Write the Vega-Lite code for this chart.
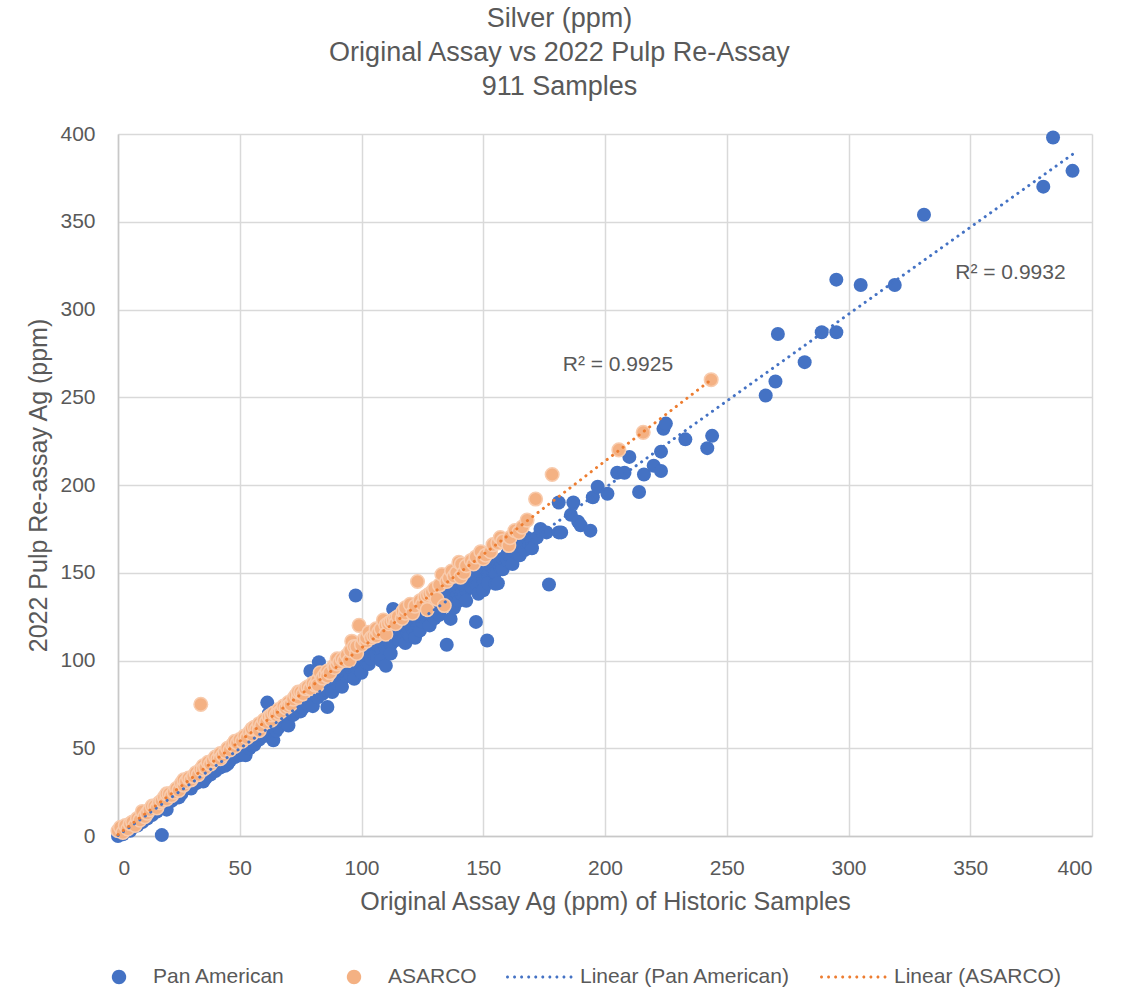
{
  "$schema": "https://vega.github.io/schema/vega-lite/v6.json",
  "width": 974,
  "height": 702,
  "padding": {"left": 26, "top": 5, "right": 10, "bottom": 5},
  "background": "white",
  "title": {
    "text": ["Silver (ppm)", "Original Assay vs 2022 Pulp Re-Assay", "911 Samples"],
    "fontSize": 27,
    "lineHeight": 34,
    "font": "Liberation Sans",
    "fontWeight": "normal",
    "color": "#595959",
    "anchor": "middle",
    "frame": "bounds",
    "offset": 22
  },
  "config": {
    "view": {"stroke": null},
    "axis": {
      "labelFont": "Liberation Sans",
      "titleFont": "Liberation Sans",
      "labelFontSize": 21,
      "titleFontSize": 25,
      "titleFontWeight": "normal",
      "labelColor": "#595959",
      "titleColor": "#595959",
      "gridColor": "#D9D9D9",
      "gridWidth": 1.5,
      "domainColor": "#C8C8C8",
      "domainWidth": 1.5,
      "ticks": false
    },
    "legend": {
      "orient": "none",
      "legendX": -39,
      "legendY": 807,
      "direction": "horizontal",
      "title": null,
      "symbolSize": 5184,
      "symbolStrokeWidth": 0,
      "symbolOpacity": 1,
      "labelFontSize": 21,
      "labelFont": "Liberation Sans",
      "labelColor": "#595959",
      "labelOffset": 2,
      "labelLimit": 400,
      "columnPadding": 29
    }
  },
  "datasets": {
    "panAmerican": [
      {"x":0,"y":0},{"x":0.5,"y":1},{"x":1,"y":2},{"x":2,"y":1},{"x":2,"y":4},{"x":3,"y":3},{"x":4,"y":5},{"x":5,"y":3},{"x":5,"y":6},{"x":6,"y":5},{"x":7,"y":8},{"x":8,"y":6},{"x":9,"y":9},{"x":10,"y":8},{"x":11,"y":12},{"x":12,"y":10},{"x":13,"y":13},{"x":14,"y":12},{"x":15,"y":16},{"x":16,"y":14},{"x":17,"y":17},{"x":18,"y":0.5},{"x":18,"y":16},{"x":19,"y":19},{"x":20,"y":18},{"x":20,"y":15},{"x":21,"y":22},{"x":22,"y":20},{"x":23,"y":24},{"x":24,"y":22},{"x":25,"y":26},{"x":25,"y":22},{"x":26,"y":24},{"x":27,"y":28},{"x":28,"y":27},{"x":29,"y":30},{"x":30,"y":27},{"x":30,"y":31},{"x":31,"y":31},{"x":32,"y":30},{"x":33,"y":34},{"x":34,"y":32},{"x":35,"y":36},{"x":35,"y":31},{"x":36,"y":33},{"x":37,"y":38},{"x":38,"y":35},{"x":39,"y":40},{"x":40,"y":37},{"x":40,"y":41},{"x":41,"y":42},{"x":42,"y":39},{"x":43,"y":44},{"x":44,"y":40},{"x":45,"y":47},{"x":45,"y":41},{"x":46,"y":43},{"x":47,"y":49},{"x":48,"y":45},{"x":48,"y":50},{"x":49,"y":50},{"x":50,"y":46},{"x":51,"y":53},{"x":52,"y":49},{"x":52.4,"y":46},{"x":53,"y":55},{"x":54,"y":50},{"x":55,"y":57},{"x":55,"y":52},{"x":56,"y":52},{"x":57,"y":58},{"x":58,"y":55},{"x":58,"y":60},{"x":59,"y":60},{"x":60,"y":57},{"x":60,"y":62},{"x":61.3,"y":76},{"x":62,"y":62},{"x":62,"y":70},{"x":63,"y":64},{"x":63.8,"y":54.5},{"x":64,"y":60},{"x":65,"y":66},{"x":65,"y":60},{"x":66,"y":62},{"x":67,"y":68},{"x":68,"y":65},{"x":68,"y":72},{"x":69,"y":70},{"x":70,"y":67},{"x":70,"y":63},{"x":71,"y":72},{"x":72,"y":69},{"x":72,"y":75},{"x":73,"y":75},{"x":74,"y":71},{"x":75,"y":76},{"x":75,"y":71},{"x":76,"y":73},{"x":77,"y":78},{"x":78,"y":75},{"x":78,"y":81},{"x":79,"y":80},{"x":79,"y":94},{"x":80,"y":77},{"x":80,"y":74},{"x":81,"y":83},{"x":82,"y":79},{"x":82.5,"y":99},{"x":83,"y":84},{"x":84,"y":81},{"x":84,"y":86},{"x":85,"y":87},{"x":86,"y":73.5},{"x":86,"y":83},{"x":87,"y":88},{"x":88,"y":85},{"x":88,"y":82},{"x":89,"y":90},{"x":90,"y":87},{"x":90,"y":93},{"x":91,"y":93},{"x":92,"y":89},{"x":92,"y":85},{"x":93,"y":94},{"x":94,"y":91},{"x":95,"y":98},{"x":95.5,"y":91.5},{"x":96,"y":95},{"x":97,"y":89.6},{"x":97.6,"y":137},{"x":98,"y":96},{"x":99,"y":100},{"x":100,"y":97},{"x":100,"y":93},{"x":101,"y":103},{"x":102,"y":99},{"x":103,"y":104},{"x":103,"y":98},{"x":104,"y":101},{"x":105,"y":107},{"x":105,"y":110},{"x":106,"y":103},{"x":107,"y":108},{"x":108,"y":105},{"x":108,"y":100},{"x":109,"y":110},{"x":110,"y":97},{"x":110,"y":107},{"x":111,"y":112},{"x":112,"y":109},{"x":112,"y":104},{"x":113,"y":129.4},{"x":113,"y":111},{"x":114,"y":115},{"x":115,"y":112},{"x":115,"y":118},{"x":116,"y":117},{"x":117,"y":114},{"x":118,"y":119},{"x":118,"y":110},{"x":119,"y":116},{"x":120,"y":121},{"x":120,"y":114},{"x":121,"y":118},{"x":122,"y":113},{"x":122,"y":123},{"x":123,"y":120},{"x":124,"y":125},{"x":124,"y":117},{"x":125,"y":122},{"x":126,"y":127},{"x":126,"y":130},{"x":127,"y":124},{"x":128,"y":129},{"x":128,"y":120},{"x":129,"y":126},{"x":130,"y":131},{"x":130,"y":124},{"x":131,"y":128},{"x":132,"y":133},{"x":132,"y":126},{"x":133,"y":130},{"x":134,"y":136},{"x":134,"y":140},{"x":135,"y":109},{"x":135,"y":132},{"x":136,"y":138},{"x":136.6,"y":123.7},{"x":137,"y":134},{"x":138,"y":140},{"x":138,"y":130},{"x":139,"y":136},{"x":140,"y":141},{"x":140,"y":134},{"x":141,"y":138},{"x":142,"y":143},{"x":143,"y":140},{"x":143,"y":134},{"x":144,"y":146},{"x":145,"y":142},{"x":145,"y":148},{"x":146,"y":148},{"x":147,"y":122},{"x":147,"y":144},{"x":148,"y":138},{"x":149,"y":149},{"x":150,"y":146},{"x":150,"y":140},{"x":151,"y":152},{"x":151.6,"y":111.4},{"x":152,"y":149},{"x":152,"y":144},{"x":153,"y":154},{"x":154,"y":151},{"x":155,"y":143.7},{"x":155,"y":150},{"x":156,"y":144},{"x":156,"y":156},{"x":157,"y":153},{"x":158,"y":158},{"x":158,"y":152},{"x":160,"y":157},{"x":160,"y":161},{"x":161,"y":160},{"x":162,"y":163},{"x":162,"y":155},{"x":164,"y":161},{"x":165,"y":166},{"x":165,"y":160},{"x":167,"y":163},{"x":168,"y":170},{"x":169,"y":166},{"x":170,"y":168},{"x":170,"y":164},{"x":172,"y":170},{"x":173.5,"y":175},{"x":176,"y":173},{"x":177,"y":143.3},{"x":181,"y":173},{"x":181,"y":190},{"x":182,"y":173},{"x":186,"y":183},{"x":187,"y":190},{"x":189,"y":179},{"x":190,"y":177},{"x":194,"y":174},{"x":195,"y":193},{"x":197,"y":199},{"x":201,"y":195},{"x":205,"y":207},{"x":208,"y":207},{"x":210,"y":216},{"x":214,"y":196},{"x":216,"y":206},{"x":220,"y":211},{"x":223,"y":208},{"x":223,"y":219},{"x":224,"y":232},{"x":225,"y":235},{"x":233,"y":226},{"x":242,"y":221},{"x":244,"y":228},{"x":266,"y":251},{"x":270,"y":259},{"x":271,"y":286},{"x":282,"y":270},{"x":289,"y":287},{"x":295,"y":287},{"x":295,"y":317},{"x":305,"y":314},{"x":319,"y":314},{"x":331,"y":354},{"x":380,"y":370},{"x":384,"y":398},{"x":392,"y":379}
    ],
    "asarco": [
      {"x":0,"y":3},{"x":1,"y":5},{"x":2,"y":2},{"x":3,"y":6},{"x":4,"y":4},{"x":5,"y":7},{"x":6,"y":8},{"x":7,"y":6},{"x":8,"y":10},{"x":9,"y":9},{"x":10,"y":14},{"x":11,"y":11},{"x":12,"y":13},{"x":13,"y":15},{"x":14,"y":17},{"x":15,"y":17},{"x":16,"y":16},{"x":17,"y":19},{"x":18,"y":20},{"x":19,"y":22},{"x":20,"y":21},{"x":20,"y":24},{"x":21,"y":24},{"x":22,"y":23},{"x":23,"y":25},{"x":24,"y":27},{"x":25,"y":26},{"x":26,"y":30},{"x":27,"y":29},{"x":27,"y":32},{"x":28,"y":31},{"x":29,"y":33},{"x":30,"y":32},{"x":31,"y":34},{"x":32,"y":36},{"x":33,"y":35},{"x":34,"y":75},{"x":34,"y":38},{"x":35,"y":40},{"x":35,"y":38},{"x":36,"y":39},{"x":37,"y":42},{"x":38,"y":41},{"x":39,"y":43},{"x":40,"y":45},{"x":41,"y":44},{"x":42,"y":47},{"x":42,"y":44},{"x":43,"y":46},{"x":44,"y":48},{"x":45,"y":50},{"x":46,"y":49},{"x":47,"y":52},{"x":48,"y":51},{"x":48,"y":54},{"x":49,"y":53},{"x":50,"y":55},{"x":51,"y":54},{"x":52,"y":57},{"x":53,"y":56},{"x":54,"y":59},{"x":55,"y":58},{"x":55,"y":61},{"x":56,"y":62},{"x":57,"y":61},{"x":58,"y":64},{"x":58,"y":60},{"x":59,"y":63},{"x":60,"y":66},{"x":61,"y":65},{"x":62,"y":68},{"x":63,"y":66},{"x":63,"y":69},{"x":64,"y":70},{"x":65,"y":69},{"x":66,"y":72},{"x":66,"y":70},{"x":67,"y":71},{"x":68,"y":74},{"x":69,"y":73},{"x":70,"y":76},{"x":70,"y":74},{"x":71,"y":75},{"x":72,"y":78},{"x":73,"y":80},{"x":74,"y":79},{"x":74,"y":82},{"x":75,"y":82},{"x":76,"y":81},{"x":77,"y":84},{"x":78,"y":85},{"x":79,"y":84},{"x":80,"y":87},{"x":81,"y":86},{"x":82,"y":89},{"x":82,"y":86},{"x":83,"y":93},{"x":84,"y":90},{"x":85,"y":92},{"x":86,"y":94},{"x":86,"y":91},{"x":87,"y":93},{"x":88.7,"y":97},{"x":89,"y":96},{"x":90,"y":98},{"x":90,"y":101},{"x":91,"y":99},{"x":92,"y":101},{"x":93,"y":100},{"x":94,"y":103},{"x":95,"y":100},{"x":95.5,"y":105.7},{"x":96,"y":111},{"x":97,"y":108},{"x":98,"y":104},{"x":98,"y":108},{"x":99,"y":120},{"x":100,"y":109},{"x":101,"y":112},{"x":102,"y":111},{"x":102,"y":113},{"x":103,"y":116},{"x":104,"y":113},{"x":105,"y":114},{"x":106,"y":114},{"x":106,"y":118},{"x":107,"y":116},{"x":108,"y":118},{"x":109,"y":123},{"x":110,"y":120},{"x":110,"y":115},{"x":111,"y":121},{"x":112,"y":122},{"x":113,"y":123},{"x":114,"y":124},{"x":114,"y":121},{"x":115,"y":125},{"x":116.7,"y":124},{"x":117,"y":128},{"x":118,"y":127},{"x":118,"y":130},{"x":120,"y":132},{"x":121,"y":127},{"x":122,"y":131},{"x":123,"y":145},{"x":124,"y":134},{"x":125,"y":132},{"x":126,"y":136},{"x":127,"y":137},{"x":127,"y":129},{"x":128,"y":138},{"x":129,"y":139},{"x":130,"y":141},{"x":131,"y":135},{"x":132,"y":143},{"x":133,"y":149},{"x":134,"y":131.3},{"x":135,"y":145},{"x":136,"y":147},{"x":137,"y":151},{"x":138,"y":148},{"x":139,"y":150},{"x":140,"y":156},{"x":140.7,"y":147.5},{"x":141,"y":155},{"x":142,"y":150},{"x":143,"y":154},{"x":145,"y":157},{"x":146,"y":155},{"x":147,"y":159},{"x":149,"y":162},{"x":150,"y":158},{"x":151,"y":160},{"x":153,"y":162},{"x":154,"y":166},{"x":156,"y":167},{"x":157,"y":170},{"x":158,"y":168},{"x":160.5,"y":165.5},{"x":161,"y":170},{"x":163,"y":174},{"x":164.6,"y":173},{"x":166,"y":176},{"x":168,"y":180},{"x":171.5,"y":192},{"x":178.3,"y":206},{"x":205.7,"y":220},{"x":215.7,"y":230},{"x":243.6,"y":260}
    ],
    "trendPan": [{"x":0,"y":0.3},{"x":392,"y":388.4}],
    "trendAsarco": [{"x":0,"y":0.8},{"x":244,"y":260.4}],
    "labels": [
      {"x":205.3,"y":268.4,"text":"R² = 0.9925"},
      {"x":366.5,"y":320.8,"text":"R² = 0.9932"}
    ]
  },
  "encoding": {
    "x": {
      "field": "x", "type": "quantitative",
      "scale": {"domain": [0, 400], "nice": false},
      "axis": {"title": "Original Assay Ag (ppm) of Historic Samples", "values": [0,50,100,150,200,250,300,350,400], "grid": true, "labelPadding": 21, "titlePadding": 11}
    },
    "y": {
      "field": "y", "type": "quantitative",
      "scale": {"domain": [0, 400], "nice": false},
      "axis": {"title": "2022 Pulp Re-assay Ag (ppm)", "values": [0,50,100,150,200,250,300,350,400], "grid": true, "labelPadding": 23, "titlePadding": 8}
    }
  },
  "layer": [
    {
      "data": {"name": "panAmerican"},
      "mark": {"type": "circle", "size": 196, "color": "#4472C4", "opacity": 1, "clip": false}
    },
    {
      "data": {"name": "asarco"},
      "mark": {"type": "circle", "size": 185, "fill": "#F4B183", "stroke": "#F8CBAD", "strokeWidth": 1.5, "opacity": 1, "clip": false}
    },
    {
      "data": {"name": "trendPan"},
      "mark": {"type": "line", "color": "#4472C4", "strokeWidth": 3, "strokeCap": "round", "strokeDash": [0.1, 6.6]}
    },
    {
      "data": {"name": "trendAsarco"},
      "mark": {"type": "line", "color": "#ED7D31", "strokeWidth": 3, "strokeCap": "round", "strokeDash": [0.1, 6.6]}
    },
    {
      "data": {"name": "labels"},
      "mark": {"type": "text", "font": "Liberation Sans", "fontSize": 21, "color": "#595959", "align": "center", "baseline": "middle"},
      "encoding": {"text": {"field": "text"}}
    },
    {
      "data": {"values": []},
      "mark": {"type": "point", "filled": true, "opacity": 1},
      "encoding": {
        "x": null,
        "y": null,
        "color": {
          "field": "series", "type": "nominal",
          "scale": {"domain": ["Pan American", "ASARCO", "Linear (Pan American)", "Linear (ASARCO)"], "range": ["#4472C4", "#F4B183", "#4472C4", "#ED7D31"]}
        },
        "shape": {
          "field": "series", "type": "nominal",
          "scale": {"domain": ["Pan American", "ASARCO", "Linear (Pan American)", "Linear (ASARCO)"], "range": [
            "M-0.089,0A0.2,0.2,0,1,0,0.311,0A0.2,0.2,0,1,0,-0.089,0Z",
            "M-0.089,0A0.2,0.2,0,1,0,0.311,0A0.2,0.2,0,1,0,-0.089,0Z",
            "M-1,0A0.042,0.042,0,1,0,-0.916,0A0.042,0.042,0,1,0,-1,0ZM-0.804,0A0.042,0.042,0,1,0,-0.72,0A0.042,0.042,0,1,0,-0.804,0ZM-0.608,0A0.042,0.042,0,1,0,-0.524,0A0.042,0.042,0,1,0,-0.608,0ZM-0.412,0A0.042,0.042,0,1,0,-0.328,0A0.042,0.042,0,1,0,-0.412,0ZM-0.216,0A0.042,0.042,0,1,0,-0.132,0A0.042,0.042,0,1,0,-0.216,0ZM-0.02,0A0.042,0.042,0,1,0,0.064,0A0.042,0.042,0,1,0,-0.02,0ZM0.176,0A0.042,0.042,0,1,0,0.26,0A0.042,0.042,0,1,0,0.176,0ZM0.372,0A0.042,0.042,0,1,0,0.456,0A0.042,0.042,0,1,0,0.372,0ZM0.568,0A0.042,0.042,0,1,0,0.652,0A0.042,0.042,0,1,0,0.568,0ZM0.764,0A0.042,0.042,0,1,0,0.848,0A0.042,0.042,0,1,0,0.764,0Z",
            "M-1,0A0.042,0.042,0,1,0,-0.916,0A0.042,0.042,0,1,0,-1,0ZM-0.804,0A0.042,0.042,0,1,0,-0.72,0A0.042,0.042,0,1,0,-0.804,0ZM-0.608,0A0.042,0.042,0,1,0,-0.524,0A0.042,0.042,0,1,0,-0.608,0ZM-0.412,0A0.042,0.042,0,1,0,-0.328,0A0.042,0.042,0,1,0,-0.412,0ZM-0.216,0A0.042,0.042,0,1,0,-0.132,0A0.042,0.042,0,1,0,-0.216,0ZM-0.02,0A0.042,0.042,0,1,0,0.064,0A0.042,0.042,0,1,0,-0.02,0ZM0.176,0A0.042,0.042,0,1,0,0.26,0A0.042,0.042,0,1,0,0.176,0ZM0.372,0A0.042,0.042,0,1,0,0.456,0A0.042,0.042,0,1,0,0.372,0ZM0.568,0A0.042,0.042,0,1,0,0.652,0A0.042,0.042,0,1,0,0.568,0ZM0.764,0A0.042,0.042,0,1,0,0.848,0A0.042,0.042,0,1,0,0.764,0Z"
          ]}
        }
      }
    }
  ]
}
